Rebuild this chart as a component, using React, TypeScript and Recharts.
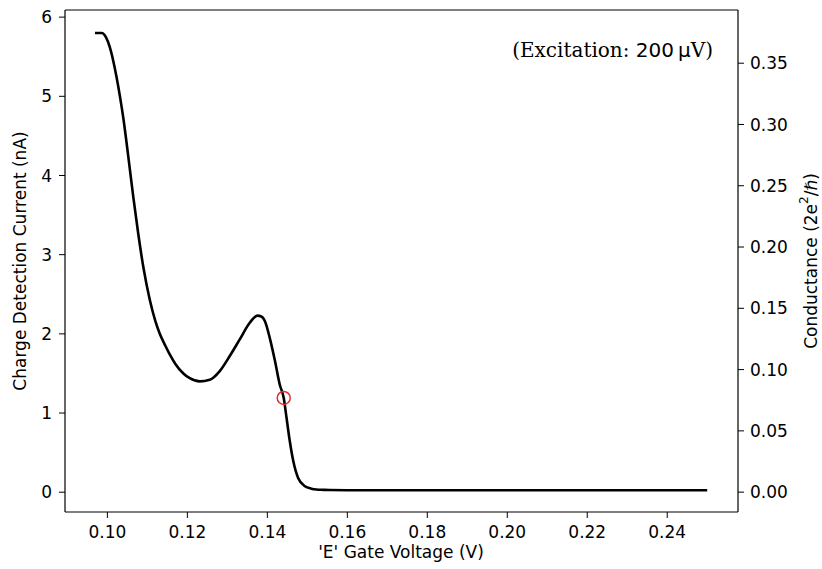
import React from 'react'
import {
  ComposedChart,
  Line,
  Scatter,
  XAxis,
  YAxis,
  Label,
  ReferenceLine,
} from 'recharts'

// gate voltage (V) and charge detection current (nA)
const gateVoltage = [
  0.0969, 0.0986, 0.0996, 0.1006, 0.1015, 0.1023, 0.1032, 0.104, 0.1052, 0.1065,
  0.1077, 0.109, 0.1106, 0.112, 0.1131, 0.1145, 0.1156, 0.117, 0.119, 0.1206,
  0.1231, 0.1256, 0.1281, 0.1306, 0.1331, 0.1356, 0.1375, 0.1385, 0.1394, 0.1406,
  0.1419, 0.1431, 0.1441, 0.1448, 0.1456, 0.1465, 0.1477, 0.1494, 0.151, 0.1523,
  0.154, 0.1556, 0.16, 0.17, 0.18, 0.2, 0.22, 0.24, 0.25,
]
const current = [
  5.8, 5.8, 5.75, 5.62, 5.44, 5.24, 4.98, 4.72, 4.25, 3.72,
  3.27, 2.84, 2.43, 2.16, 2.0, 1.85, 1.74, 1.62, 1.5, 1.44,
  1.4, 1.42, 1.53, 1.72, 1.93, 2.14, 2.23, 2.22, 2.16, 1.95,
  1.66, 1.36, 1.19, 0.94, 0.65, 0.39, 0.18, 0.076, 0.045, 0.034,
  0.03, 0.027, 0.025, 0.025, 0.025, 0.025, 0.025, 0.025, 0.025,
]

// marked operating point
const markerVoltage = [0.1441]
const markerCurrent = [1.19]

const xTicks = [0.1, 0.12, 0.14, 0.16, 0.18, 0.2, 0.22, 0.24]
const leftTicks = [0, 1, 2, 3, 4, 5, 6]
const rightTicks = [0, 0.05, 0.1, 0.15, 0.2, 0.25, 0.3, 0.35]

const traceData = gateVoltage.map((v, i) => ({ v, i: current[i] }))
const markerData = markerVoltage.map((v, i) => ({ v, i: markerCurrent[i] }))

const font = "'DejaVu Sans', sans-serif"
const tickStyle = { fontSize: 17, fill: '#000', fontFamily: font }
const leftMax = 6.09

const RingShape = (props: any) => (
  <circle cx={props.cx} cy={props.cy} r={6.5} fill="none" stroke="#e0302f" strokeWidth={1.5} />
)

export default function App() {
  return (
    <div style={{ position: 'absolute', left: 0, top: 0, width: 822, height: 569, background: '#fff' }}>
      <ComposedChart
        width={822}
        height={569}
        margin={{ top: 10, right: 0, bottom: 0, left: 0 }}
      >
        <XAxis
          xAxisId="bottom"
          type="number"
          dataKey="v"
          domain={[0.0894, 0.2577]}
          ticks={xTicks}
          tickFormatter={(t: number) => t.toFixed(2)}
          allowDataOverflow
          height={57}
          tick={tickStyle}
          tickSize={6}
          tickMargin={8}
          stroke="#000"
          axisLine={{ stroke: '#000', strokeWidth: 1.2 }}
          tickLine={{ stroke: '#000' }}
        >
          <Label
            content={() => (
              <text x={401} y={558} textAnchor="middle" fontSize={17} fontFamily={font} fill="#000">
                'E' Gate Voltage (V)
              </text>
            )}
          />
        </XAxis>
        <YAxis
          yAxisId="left"
          type="number"
          domain={[-0.25, leftMax]}
          ticks={leftTicks}
          allowDataOverflow
          width={65}
          tick={tickStyle}
          tickSize={6}
          tickMargin={7}
          axisLine={{ stroke: '#000', strokeWidth: 1.2 }}
          tickLine={{ stroke: '#000' }}
        >
          <Label
            content={() => (
              <text
                x={20}
                y={261}
                transform="rotate(-90 20 261)"
                textAnchor="middle"
                dominantBaseline="central"
                fontSize={17}
                fontFamily={font}
                fill="#000"
              >
                Charge Detection Current (nA)
              </text>
            )}
          />
        </YAxis>
        <YAxis
          yAxisId="right"
          orientation="right"
          type="number"
          domain={[-0.0162, 0.3934]}
          ticks={rightTicks}
          tickFormatter={(t: number) => t.toFixed(2)}
          allowDataOverflow
          width={84}
          tick={tickStyle}
          tickSize={6}
          tickMargin={6}
          axisLine={{ stroke: '#000', strokeWidth: 1.2 }}
          tickLine={{ stroke: '#000' }}
        >
          <Label
            content={() => (
              <text
                x={811}
                y={261}
                transform="rotate(-90 811 261)"
                textAnchor="middle"
                dominantBaseline="central"
                fontSize={17}
                fontFamily={font}
                fill="#000"
              >
                Conductance (2e<tspan dy={-7} fontSize={12}>2</tspan>
                <tspan dy={7}>/ℏ)</tspan>
              </text>
            )}
          />
        </YAxis>
        {/* top edge of the frame */}
        <ReferenceLine
          xAxisId="bottom"
          yAxisId="left"
          y={leftMax}
          stroke="#000"
          strokeWidth={1.2}
          ifOverflow="visible"
        />
        <Line
          xAxisId="bottom"
          yAxisId="left"
          data={traceData}
          dataKey="i"
          type="monotone"
          stroke="#000"
          strokeWidth={2.6}
          dot={false}
          activeDot={false}
          isAnimationActive={false}
        />
        <Scatter
          xAxisId="bottom"
          yAxisId="left"
          data={markerData}
          dataKey="i"
          shape={RingShape}
          isAnimationActive={false}
        />
      </ComposedChart>
      <div
        style={{
          position: 'absolute',
          right: 822 - 713,
          top: 36,
          fontSize: 20,
          lineHeight: '28px',
          whiteSpace: 'nowrap',
          color: '#000',
          fontFamily: "'DejaVu Serif', serif",
        }}
      >
        (Excitation: <span style={{ fontFamily: font }}>200&thinsp;μ</span>V)
      </div>
    </div>
  )
}
